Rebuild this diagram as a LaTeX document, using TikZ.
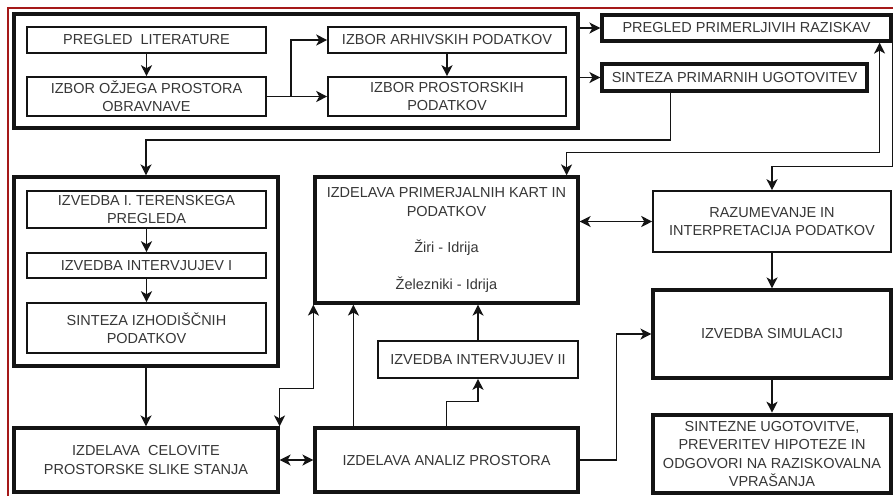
\documentclass[tikz,border=0pt]{standalone}
\usepackage{fontspec}
\setmainfont{Liberation Sans}
\usetikzlibrary{arrows.meta}
\definecolor{framered}{RGB}{165,25,25}
\definecolor{txt}{RGB}{55,55,55}
\definecolor{lncol}{RGB}{20,20,20}
\tikzset{
  base/.style={draw=lncol, fill=white, text=txt, align=center, inner sep=0pt,
    font=\fontsize{14.5}{18.3}\selectfont},
  thinbox/.style={base, line width=1.6pt},
  thickbox/.style={base, line width=3.2pt},
  heavybox/.style={base, line width=4.6pt},
  grp/.style={draw=lncol, line width=3.2pt, fill=none},
  arr/.style={draw=lncol, line width=1.6pt, -{Stealth[length=11pt,width=11pt,inset=3pt]}},
  arrboth/.style={draw=lncol, line width=1.6pt, {Stealth[length=11pt,width=11pt,inset=3pt]}-{Stealth[length=11pt,width=11pt,inset=3pt]}}
}
\begin{document}
\begin{tikzpicture}[x=1pt,y=-1pt]
\useasboundingbox (0,0) rectangle (893,496);
\fill[white] (0,0) rectangle (893,496);
% red frame
\draw[framered, line width=2pt] (893,7.5) -- (7.5,7.5) -- (7.5,496);

% group boxes
\node[grp, minimum width=564pt, minimum height=114pt] (g1) at (296,71) {};
\node[grp, minimum width=264pt, minimum height=189pt] (g2) at (146,271.5) {};

% top group
\node[thinbox, minimum width=239pt, minimum height=26pt] (lit) at (146.5,40) {PREGLED\ \ LITERATURE};
\node[thinbox, minimum width=239pt, minimum height=39pt] (ozj) at (146.5,96.5) {IZBOR OŽJEGA PROSTORA\\OBRAVNAVE};
\node[thinbox, minimum width=238pt, minimum height=26pt] (arh) at (447,40) {IZBOR ARHIVSKIH PODATKOV};
\node[thinbox, minimum width=238pt, minimum height=39pt] (pro) at (447,96.5) {IZBOR PROSTORSKIH\\PODATKOV};

\node[thickbox, minimum width=289pt, minimum height=26pt] (prp) at (746.5,28) {PREGLED PRIMERLJIVIH RAZISKAV};
\node[thickbox, minimum width=265pt, minimum height=27pt] (spu) at (734.5,77.5) {SINTEZA PRIMARNIH UGOTOVITEV};

% left group
\node[thinbox, minimum width=239pt, minimum height=37pt] (ter) at (146.5,209.5) {IZVEDBA I. TERENSKEGA\\PREGLEDA};
\node[thinbox, minimum width=239pt, minimum height=25pt] (int1) at (146.5,265.5) {IZVEDBA INTERVJUJEV I};
\node[thinbox, minimum width=239pt, minimum height=50pt] (siz) at (146.5,328) {SINTEZA IZHODIŠČNIH\\PODATKOV};

\node[thickbox, minimum width=264pt, minimum height=64pt] (cel) at (146,460) {IZDELAVA\ \ CELOVITE\\PROSTORSKE SLIKE STANJA};

% middle
\node[thickbox, minimum width=263pt, minimum height=126pt] (prim) at (446.5,240) {IZDELAVA PRIMERJALNIH KART IN\\PODATKOV\\[18.3pt]Žiri - Idrija\\[18.3pt]Železniki - Idrija};
\node[thinbox, minimum width=200pt, minimum height=37pt] (int2) at (478,359.5) {IZVEDBA INTERVJUJEV II};
\node[thickbox, minimum width=263pt, minimum height=64pt] (ana) at (446.5,460) {IZDELAVA ANALIZ PROSTORA};

% right
\node[thinbox, minimum width=238pt, minimum height=61pt] (raz) at (772,221.5) {RAZUMEVANJE IN\\INTERPRETACIJA PODATKOV};
\node[thickbox, minimum width=238pt, minimum height=88pt] (sim) at (772,334) {IZVEDBA SIMULACIJ};
\node[heavybox, minimum width=238pt, minimum height=78pt] (sint) at (772,454) {SINTEZNE UGOTOVITVE,\\PREVERITEV HIPOTEZE IN\\ODGOVORI NA RAZISKOVALNA\\VPRAŠANJA};

% connectors
\draw[arr] (lit) -- (ozj);
\draw[arr] (ozj.east) -- (pro.west);
\draw[arr] (ozj.east) -- ++(24,0) |- (arh.west);
\draw[arr] (arh) -- (pro);
\draw[arr] (g1.east |- prp.west) -- (prp.west);
\draw[arr] (g1.east |- spu.west) -- (spu.west);
\draw[arr] ([xshift=70pt]spu.south west) -- ++(0,47.5) -| (g2.north);

\draw[arr] (ter) -- (int1);
\draw[arr] (int1) -- (siz);
\draw[arr] (g2.south) -- (cel.north);
\draw[arrboth] (cel.east) -- (ana.west);
\draw[arrboth] (cel.north east) -- ++(0,-38) -| (prim.south west);
\draw[arr] ([xshift=40pt]ana.north west) -- ([xshift=40pt]prim.south west);
\draw[arr] (ana.north) -- ++(0,-25) -| (int2.south);
\draw[arr] (int2.north) -- (int2.north |- prim.south);
\draw[arr] (ana.east) -- ++(37,0) |- (sim.west);

\draw[arrboth] (raz.west -| prim.east) -- (raz.west);
\draw[arrboth] ([xshift=-13pt]prp.south east) -- ++(0,110) -| ([xshift=-13pt]prim.north east);
\draw[arr] (prp.south east) -- ++(0,124) -| (raz.north);
\draw[arr] (raz) -- (sim);
\draw[arr] (sim) -- (sint);
\end{tikzpicture}
\end{document}
